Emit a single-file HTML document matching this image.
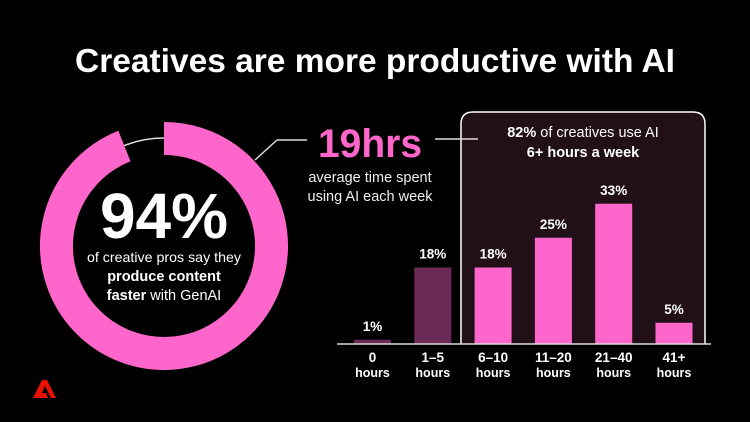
<!DOCTYPE html>
<html><head><meta charset="utf-8"><style>
html,body{margin:0;padding:0;background:#000;}
svg{display:block;font-family:"Liberation Sans",sans-serif;}
</style></head><body>
<svg id="chart" width="750" height="422" viewBox="0 0 750 422" xmlns="http://www.w3.org/2000/svg">
<rect width="750" height="422" fill="#000"/>
<text x="375" y="72" text-anchor="middle" fill="#fff" font-weight="bold" font-size="33" textLength="600" lengthAdjust="spacingAndGlyphs">Creatives are more productive with AI</text>

<g>
<circle cx="164" cy="246" r="108" fill="none" stroke="#ddd" stroke-width="1.5"/>
<path id="donutArc" fill="none" stroke="#ff66cc" stroke-width="33"/>
</g>
<text x="164" y="238" text-anchor="middle" fill="#fff" font-weight="bold" font-size="64">94%</text>
<text x="164" y="262" text-anchor="middle" fill="#fff" font-size="14" textLength="154" lengthAdjust="spacingAndGlyphs">of creative pros say they</text>
<text x="164" y="281" text-anchor="middle" fill="#fff" font-size="14.5" font-weight="bold">produce content</text>
<text x="164" y="300" text-anchor="middle" fill="#fff" font-size="14.5"><tspan font-weight="bold">faster</tspan> with GenAI</text>

<polyline points="255,160 277,140 307,140" fill="none" stroke="#ddd" stroke-width="1.5"/>
<text x="318" y="157" fill="#ff66cc" font-weight="bold" font-size="40" textLength="104" lengthAdjust="spacingAndGlyphs">19hrs</text>
<text x="370" y="182" text-anchor="middle" fill="#eee" font-size="14.5">average time spent</text>
<text x="370" y="201" text-anchor="middle" fill="#eee" font-size="14.5">using AI each week</text>

<path d="M461,344 L461,124 Q461,112 473,112 L693,112 Q705,112 705,124 L705,344" fill="#221019" stroke="#fff" stroke-width="1.5"/>
<line x1="435" y1="139" x2="478" y2="139" stroke="#ddd" stroke-width="1.5"/>
<text x="583" y="137" text-anchor="middle" fill="#fff" font-size="14.5"><tspan font-weight="bold">82%</tspan> of creatives use AI</text>
<text x="583" y="157" text-anchor="middle" fill="#fff" font-size="14.5" font-weight="bold">6+ hours a week</text>

<g id="bars"></g>
<line x1="337" y1="344" x2="711" y2="344" stroke="#ddd" stroke-width="1.5"/>

<path d="M33,398 L42,380 L47,380 L56,398 L51,398 L45,386 L42,393 L46,393 L48,398 Z" fill="#eb1000"/>
</svg>
<script>
const categories = ["0", "1\u20135", "6\u201310", "11\u201320", "21\u201340", "41+"];
const values = [1, 18, 18, 25, 33, 5];
const highlighted = [false, false, true, true, true, true];
const donutValue = 94;

const NS = "http://www.w3.org/2000/svg";
const baseY = 344, pxPer = 4.25, x0 = 354, step = 60.3, bw = 37;
function xScale(i){ return x0 + i*step; }
function yScale(v){ return baseY - Math.max(v*pxPer, 3); }
const g = document.getElementById("bars");
categories.forEach((c,i)=>{
  const r = document.createElementNS(NS,"rect");
  
  
  const y = yScale(values[i]);
  r.setAttribute("x", xScale(i)); r.setAttribute("y", y);
  r.setAttribute("width", bw); r.setAttribute("height", baseY - y);
  r.setAttribute("fill", highlighted[i] ? "#ff66cc" : "#6b2a55");
  g.appendChild(r);
  const t = document.createElementNS(NS,"text");
  
  
  t.setAttribute("x", xScale(i)+bw/2); t.setAttribute("y", y-9);
  t.setAttribute("text-anchor","middle"); t.setAttribute("fill","#fff");
  t.setAttribute("font-size","13.5"); t.setAttribute("font-weight","bold");
  t.textContent = values[i] + "%";
  g.appendChild(t);
  const l1 = document.createElementNS(NS,"text");
  
  
  l1.setAttribute("x", xScale(i)+bw/2); l1.setAttribute("y", 362);
  l1.setAttribute("text-anchor","middle"); l1.setAttribute("fill","#fff");
  l1.setAttribute("font-size","13.5"); l1.setAttribute("font-weight","bold");
  l1.textContent = c;
  g.appendChild(l1);
  const l2 = document.createElementNS(NS,"text");
  
  
  l2.setAttribute("x", xScale(i)+bw/2); l2.setAttribute("y", 377);
  l2.setAttribute("text-anchor","middle"); l2.setAttribute("fill","#fff");
  l2.setAttribute("font-size","12.5"); l2.setAttribute("font-weight","bold");
  l2.textContent = "hours";
  g.appendChild(l2);
});
const cx=164, cy=246, R=107.5;
const ang = donutValue/100*2*Math.PI;
const ex = cx + R*Math.sin(ang), ey = cy - R*Math.cos(ang);
document.getElementById("donutArc").setAttribute("d",
  `M${cx},${cy-R} A${R},${R} 0 ${ang>Math.PI?1:0} 1 ${ex},${ey}`);
</script>
</body></html>
